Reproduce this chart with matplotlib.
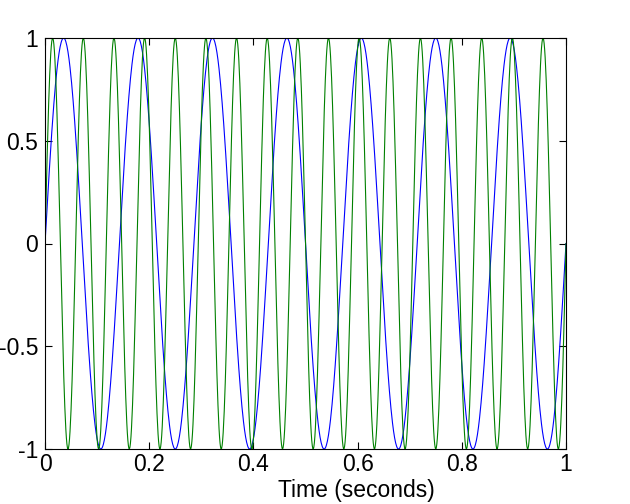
import numpy as np
import matplotlib
matplotlib.use("Agg")
import matplotlib.pyplot as plt

# Signal parameters
frequencies_hz = [7, 17]          # blue, green
amplitudes = [1.0, 1.0]
line_colors = ["#0000ff", "#008000"]
sample_rate = 1000
duration = 1.0

x_ticks = [0, 0.2, 0.4, 0.6, 0.8, 1]
x_tick_labels = ["0", "0.2", "0.4", "0.6", "0.8", "1"]
y_ticks = [-1, -0.5, 0, 0.5, 1]
y_tick_labels = ["-1", "-0.5", "0", "0.5", "1"]
x_label = "Time (seconds)"

t = np.arange(0, duration + 1e-9, 1.0 / sample_rate)

plt.rcParams['font.family'] = ['Liberation Sans', 'DejaVu Sans']
fig = plt.figure(figsize=(6.3, 5.04), dpi=100)
ax = fig.add_axes([45 / 630, 1 - 449 / 504, (566 - 45) / 630, (449 - 38) / 504])

for f, a, c in zip(frequencies_hz, amplitudes, line_colors):
    ax.plot(t, a * np.sin(2 * np.pi * f * t), color=c, linewidth=0.8)

ax.set_xlim(0, 1)
ax.set_ylim(-1, 1)
ax.set_xticks(x_ticks)
ax.set_xticklabels(x_tick_labels)
ax.set_yticks(y_ticks)
ax.set_yticklabels(y_tick_labels)
ax.tick_params(direction='in', top=True, right=True, length=5, width=0.8,
               labelsize=16.5)
ax.tick_params(axis='x', pad=3)
ax.tick_params(axis='y', pad=5)
ax.set_xlabel(x_label, fontsize=16.5)
ax.xaxis.set_label_coords(0.597, -0.073)
for s in ax.spines.values():
    s.set_linewidth(0.8)

fig.savefig("out.png", dpi=100)
